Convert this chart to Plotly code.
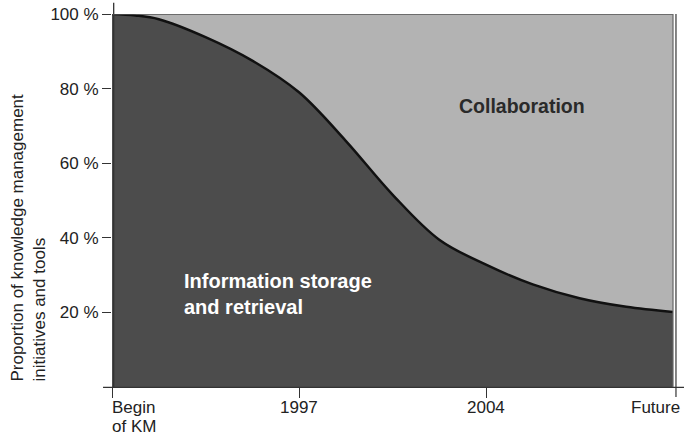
import plotly.graph_objects as go

# Data (x: 0=Begin of KM, 1=1997, 2=2004, 3=Future)
x_pos = [0, 0.125, 0.25, 0.5, 0.75, 1.0, 1.25, 1.5, 1.75, 2.0, 2.25, 2.5, 2.75, 3.0]
info_storage = [100, 99.6, 98.6, 93.8, 87.5, 79.0, 66.0, 51.6, 39.5, 32.8, 27.5, 23.8, 21.5, 20.1]
total = [100] * len(x_pos)

tick_x = [0, 1, 2, 3]
tick_labels = ["Begin<br>of KM", "1997", "2004", "Future"]
y_ticks = [20, 40, 60, 80, 100]
y_labels = ["20 %", "40 %", "60 %", "80 %", "100 %"]

FONT = "Liberation Sans, Arial, sans-serif"
DARK = "#4c4c4c"
LIGHT = "#b3b3b3"
AXC = "#333333"

fig = go.Figure()
fig.add_trace(go.Scatter(x=x_pos, y=info_storage, mode="lines",
                         line=dict(width=0, color=DARK, shape="spline", smoothing=1.0),
                         fill="tozeroy", fillcolor=DARK, hoverinfo="skip", showlegend=False))
fig.add_trace(go.Scatter(x=x_pos, y=total, mode="lines", line=dict(width=0, color=LIGHT),
                         fill="tonexty", fillcolor=LIGHT, hoverinfo="skip", showlegend=False))
fig.add_trace(go.Scatter(x=x_pos, y=info_storage, mode="lines",
                         line=dict(width=2.5, color="#111111", shape="spline", smoothing=1.0),
                         hoverinfo="skip", showlegend=False))

annotations = []
anchors = ["left", "center", "center", "right"]
shifts = [-2, 0, 0, 9]
for xv, lab, anc, sh in zip(tick_x, tick_labels, anchors, shifts):
    for i, line in enumerate(lab.split("<br>")):
        annotations.append(dict(x=xv, y=0, xref="x", yref="paper", yanchor="top", xanchor=anc,
                                text=line, showarrow=False, yshift=-9 - 19 * i, xshift=sh,
                                font=dict(family=FONT, size=17, color="#222222")))

annotations.append(dict(x=2.193, y=75.3, xref="x", yref="y", text="<b>Collaboration</b>", showarrow=False,
                        xanchor="center", yanchor="middle", font=dict(family=FONT, size=19.5, color="#2a2a2a")))
annotations.append(dict(x=0.375, y=25.0, xref="x", yref="y", text="<b>Information storage<br>and retrieval</b>",
                        showarrow=False, xanchor="left", yanchor="middle", align="left",
                        font=dict(family=FONT, size=20, color="white")))
annotations.append(dict(x=-0.1488, y=0.3995, xref="paper", yref="paper", textangle=-90, showarrow=False,
                        text="Proportion of knowledge management<br>initiatives and tools",
                        xanchor="center", yanchor="middle", align="left",
                        font=dict(family=FONT, size=17, color="#222222")))

shapes = [
    dict(type="line", xref="paper", yref="paper", x0=-0.016, x1=1.0196, y0=-0.001, y1=-0.001,
         line=dict(color=AXC, width=1.3)),
    dict(type="line", xref="paper", yref="paper", x0=0.003, x1=0.003, y0=-0.001, y1=1.03,
         line=dict(color=AXC, width=1.3)),
    dict(type="line", xref="x", yref="y", x0=0, x1=3, y0=100, y1=100, line=dict(color="#555555", width=1.6)),
    dict(type="line", xref="paper", yref="y", x0=1.0, x1=1.0, y0=0, y1=100, line=dict(color="#666666", width=1.2)),
    dict(type="line", xref="paper", yref="paper", x0=1.0053, x1=1.0053, y0=-0.027, y1=1.0,
         line=dict(color=AXC, width=1.2)),
]

fig.update_layout(
    width=684, height=436,
    margin=dict(l=112, r=11, t=14, b=49, autoexpand=False),
    paper_bgcolor="white", plot_bgcolor="white",
    showlegend=False,
    annotations=annotations, shapes=shapes,
    xaxis=dict(range=[0, 3], tickvals=tick_x[:3], ticktext=[""] * 3, ticks="outside", ticklen=10,
               tickcolor=AXC, tickwidth=1.2, showgrid=False, zeroline=False, showline=False,
               automargin=False, fixedrange=True),
    yaxis=dict(range=[0, 100], tickvals=y_ticks, ticktext=y_labels, ticks="outside", ticklen=9,
               tickcolor=AXC, tickwidth=1.2, showgrid=False, zeroline=False, showline=False,
               ticklabeloverflow="allow", automargin=False,
               tickfont=dict(family=FONT, size=17, color="#222222"), fixedrange=True),
)

fig.write_html("out.html", config={"displayModeBar": False},
               post_script="document.body.style.margin='0px';")
